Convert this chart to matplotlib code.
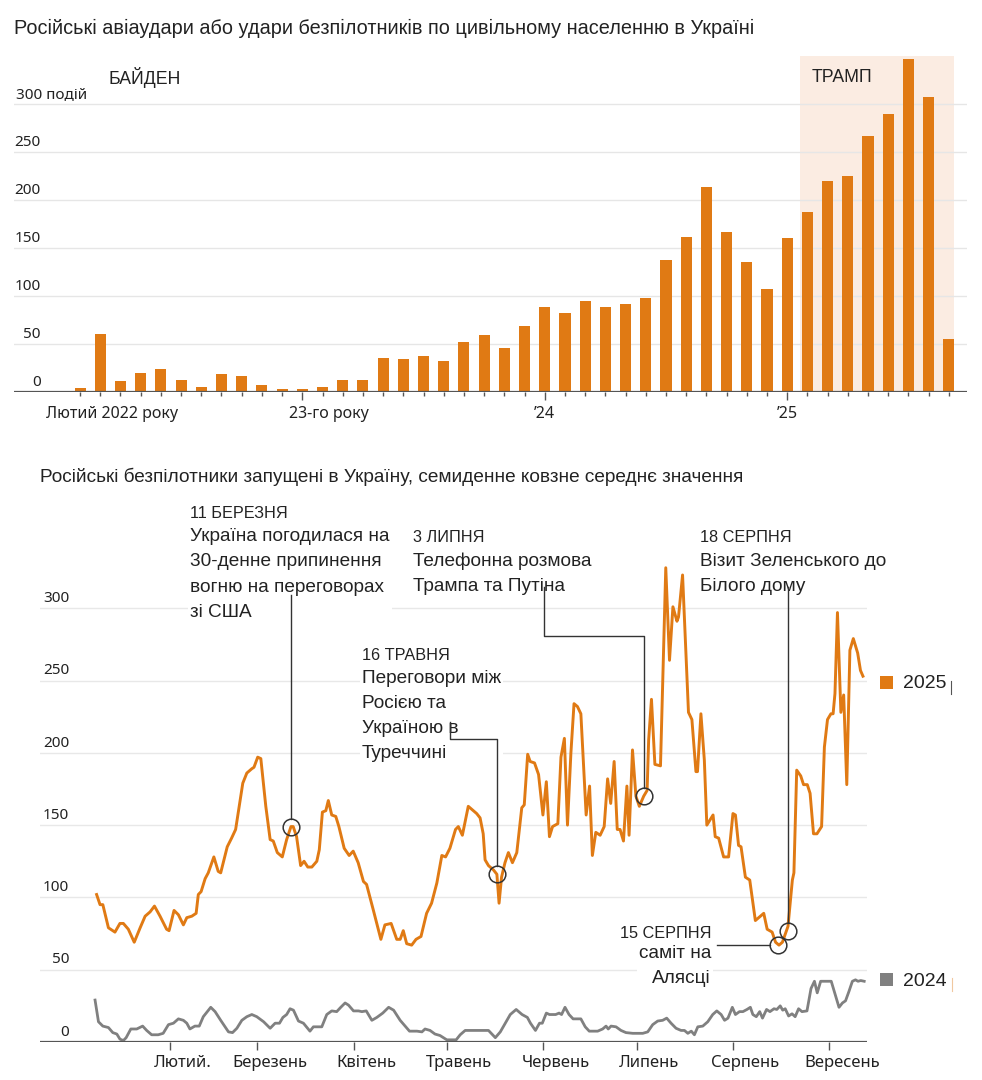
import numpy as np
import matplotlib
matplotlib.use("Agg")
import matplotlib.pyplot as plt
from matplotlib.patches import Rectangle
from matplotlib.lines import Line2D

W, H = 982, 1080
FONT = ['Liberation Sans', 'DejaVu Sans']
TICKFONT = ['Noto Sans', 'DejaVu Sans']
plt.rcParams['font.family'] = FONT

ORANGE = '#e07a14'
GRAY = '#808080'
TXT = '#222222'

# ---- top chart: monthly strikes, Feb 2022 .. Sep 2025
strikes = [4, 60, 11, 20, 24, 13, 5, 19, 17, 7,
           3, 3, 5, 13, 12, 35, 34, 38, 32, 52,
           59, 46, 69, 89, 82, 95, 89, 92, 98, 137,
           161, 214, 167, 135, 107, 160, 188, 220, 225, 267,
           290, 347, 307, 55]
month_idx = np.arange(len(strikes))
top_ticks = [11, 23, 35]
top_labels = ['Лютий 2022 року', '23-го року', '’24', '’25']
top_label_pos = [1.6, 12.3, 23, 35]
top_yticks = [0, 50, 100, 150, 200, 250, 300]
trump_start, trump_end = 35.64, 43.27

# ---- bottom chart: 7-day rolling average of drones, by day of year
days_2025 = [8.4, 9.5, 10.4, 12.2, 14.3, 15.9, 17, 18.6, 20.5, 22.4, 24, 25.6, 27, 28.8, 30.9, 31.7,
             33.3, 34.7, 36.3, 37.4, 39, 40.4, 41.1, 42, 43.3, 44.3, 46.1, 47.5, 48.3, 50.4, 51.8,
             53.1, 55.4, 56.7, 58.3, 59, 60.2, 61.2, 62.8, 64.2, 65.2, 66.5, 68.1, 69.5,
             70.9, 71.6, 72.7, 74, 75.1, 76.3, 77.6, 79.2, 80, 81, 82.1, 82.9, 84, 85.3, 86.3, 88,
             89.6, 90.9, 92.5, 94.2, 95.2, 97.4, 99.8, 101.1, 103.1, 104.9, 106, 107, 108.1, 109.7,
             111.1, 112.7, 114.5, 116.1, 117.8, 119.4, 120.6, 122, 123.8, 124.7, 126, 127.9, 130.6,
             131.7, 132.7, 133.3, 134.4, 136, 137.1, 137.8, 138.6, 139.7, 140.8, 142.1, 143.5, 145.1,
             145.9, 147, 147.8, 149.2, 150.5, 151.9, 153, 154, 155, 156.7, 157.7, 158.8, 159.8, 160.9,
             161.9, 163, 164.1, 165.8, 166.9, 167.8, 168.9, 170.3, 171.6, 172.7, 173.7, 174.8, 175.8,
             176.7, 177.8, 178.9, 179.6, 180.7, 181.8, 182.9, 184.3, 185.4, 185.9, 186.8, 187.9, 189.7,
             191.4, 192.6, 193.7, 195, 195.5, 196.8, 198.7, 199.8, 201.1, 201.6, 202.7, 203.8, 204.6,
             206.6, 207.3, 208.4, 210, 211.6, 213, 213.8, 214.8, 215.6, 217, 218.4, 220.2, 221.8, 222.9,
             224, 225.6, 226.7, 227.8, 228.9, 230.7, 232.1, 232.6, 233.5, 234.8, 235.7, 236.9, 237.8,
             238.9, 240, 241.5, 242.4, 243.4, 244.5, 245.2, 245.8, 246.6, 247.7, 248.6, 249.6, 250.6,
             251.7, 253.1, 254, 254.8]
drones_2025 = [102, 95, 95, 79, 76, 82, 82, 78, 69, 79, 87, 90, 94, 87, 78, 77,
               91, 88, 81, 86, 87, 89, 102, 104, 113, 117, 128, 118, 117, 135, 141,
               147, 179, 186, 189, 190, 197, 196, 163, 140, 139, 131, 128, 140,
               149, 149, 142, 122, 125, 121, 121, 125, 133, 159, 160, 167, 157, 156, 149, 134,
               129, 132, 124, 111, 109, 91, 71, 81, 82, 71, 71, 77, 68, 67,
               71, 73, 89, 96, 110, 129, 128, 134, 147, 149, 143, 163, 158,
               155, 144, 126, 122, 119, 116, 96, 114, 124, 131, 124, 131, 162,
               164, 199, 194, 193, 185, 157, 180, 142, 149, 151, 197, 210, 150, 200,
               234, 232, 227, 157, 177, 129, 145, 143, 149, 182, 165, 194, 147,
               147, 139, 177, 143, 202, 170, 163, 170, 174, 209, 237, 192, 191,
               328, 264, 301, 291, 294, 323, 228, 223, 187, 187, 227, 195, 150,
               157, 142, 141, 128, 128, 158, 157, 136, 135, 114, 112, 84, 87, 89,
               78, 76, 69, 67, 69, 80, 112, 117, 188, 184, 178, 178, 172,
               144, 144, 149, 204, 223, 227, 227, 241, 297, 228, 240, 178, 271,
               279, 269, 257, 253]

days_2024 = [7.9, 9, 10.4, 12.2, 13.6, 14.9, 15.9, 17, 17.9, 19.4, 21.3, 23.2, 24.5, 26.1, 28.2, 29.8,
             31.5, 33.1, 34.7, 36.3, 37.4, 38.4, 40, 41.4, 42.7, 45.1, 46.5, 48.3, 50.8, 52.1, 53.5,
             55.1, 56.7, 58.3, 59.9, 62.1, 64.2, 65.8, 67.2, 68.3, 69.5, 70.6, 71.7, 73.3, 74.9, 77,
             78.1, 80.8, 82.4, 84, 85.6, 86.9, 88.3, 89.4, 91, 92.6, 93.7, 95.1, 96.9, 98.5, 100.4,
             102.3, 103.9, 106, 109, 111.4, 113, 114, 115.6, 117.2, 118.8, 119.9, 121, 124, 125.3,
             126.9, 131.7, 134.4, 136.6, 138.2, 139.8, 141.4, 143.3, 145.2, 146.9, 147.9, 149.5,
             150.8, 151.7, 153, 154, 156, 157.1, 157.9, 159, 160.3, 161.6, 164.1, 165.5, 166.8, 169.5,
             171.1, 172.2, 172.9, 173.8, 175.4, 177, 178.6, 180.8, 184, 185.6, 187.2, 188.8, 190.4,
             191.7, 193.1, 194.7, 196.3, 197.4, 198.5, 199.6, 200.6, 201.7, 203.3, 204.9, 206.5,
             207.8, 209.2, 210.3, 211.4, 212.8, 213.8, 215.1, 216.2, 217.5, 218.6, 219.4, 220.5,
             221.6, 222.5, 223.8, 224.9, 226.2, 227.1, 228.2, 229, 229.8, 230.9, 232, 233, 234.1,
             235.2, 236.8, 238.1, 239.2, 240.1, 241.2, 244.6, 245.7, 247.1, 248.2, 249.2, 250.3,
             251.4, 252.4, 253.2, 254.1, 255.2]
drones_2024 = [29, 14, 11, 10, 6.5, 5.5, 2, 1, 3, 9, 9, 11, 8, 5, 5, 6,
               12, 13, 16, 15, 13, 9, 11, 11, 17.5, 24, 21, 15, 7, 6.5, 9.5,
               15, 17.5, 19, 17.5, 14, 9.5, 13, 13, 17, 19, 23, 22, 14.5, 13, 7.5,
               10.5, 10.5, 19, 21.5, 21, 24, 27, 25.5, 21.5, 21.5, 21, 21.5, 15, 17, 20,
               24, 22, 15, 7.5, 7.5, 7, 9, 8, 5.5, 4.5, 3, 1.5, 1.5, 5,
               8, 8, 8, 3, 7, 13, 19, 22.5, 19, 17, 13, 8,
               13, 13, 20, 19, 19, 20, 19, 24, 19, 16, 16, 10.5, 7.5, 7.5,
               9, 11, 9, 11, 10.5, 8, 6.5, 6, 6, 7, 12, 14.5, 15,
               16.5, 13, 9.5, 8, 8, 6, 7.5, 5, 10.5, 11, 14, 19,
               21.5, 19, 15, 16.5, 24, 19, 21, 21, 22.5, 24, 19, 17.5,
               21, 16.5, 22.5, 21, 23, 22.5, 25, 22, 23, 18, 19.5, 17.5, 23,
               21, 21.5, 37, 42, 34, 42, 42, 34, 24, 27, 28.5, 35,
               42, 43, 42, 42.5, 42]

month_days = [32, 60, 91, 121, 152, 182, 213, 244]
month_names = ['Лютий.', 'Березень', 'Квітень', 'Травень', 'Червень', 'Липень', 'Серпень', 'Вересень']
bottom_yticks = [0, 50, 100, 150, 200, 250, 300]

# events marked with circles (day, value)
event_days = [71, 137, 184.3, 227.4, 230.7]
event_vals = [149, 116, 170, 67, 77]


def fpx(x, y):
    return x / W, 1 - y / H


fig = plt.figure(figsize=(W / 100, H / 100), dpi=100)

# ================= top chart =================
ax1 = fig.add_axes([14 / W, 1 - 392 / H, 953 / W, 336 / H])
ax1.set_xlim(-3.27, 43.9)
ax1.set_ylim(0, 350)
ax1.axvspan(trump_start, trump_end, color='#fbece2', lw=0, zorder=0)
for v in top_yticks[1:]:
    ax1.axhline(v, color='#e6e6e6', lw=1, zorder=1)
ax1.bar(month_idx, strikes, width=0.55, color=ORANGE, zorder=2)
ax1.axhline(0, color='#555555', lw=1.6, zorder=3)
for s in ax1.spines.values():
    s.set_visible(False)
ax1.set_yticks([])
ax1.set_xticks(top_ticks)
ax1.set_xticklabels([])
ax1.set_xticks(month_idx, minor=True)
ax1.tick_params(axis='x', which='major', length=6, width=1, color='#555555')
ax1.tick_params(axis='x', which='minor', length=3, width=1, color='#555555')
for pos, lab in zip(top_label_pos, top_labels):
    ax1.annotate(lab, xy=(pos, 0), xycoords=('data', 'data'), xytext=(0, -15.5),
                 textcoords='offset points', ha='center', va='center',
                 fontsize=11.5, color=TXT, family=TICKFONT)
for v in top_yticks:
    if v == 300:
        ax1.annotate('300 подій', xy=(0.002, v), xycoords=('axes fraction', 'data'), xytext=(0, 7),
                     textcoords='offset points', ha='left', va='center',
                     fontsize=11, color=TXT, family=TICKFONT)
    else:
        ax1.annotate(str(v), xy=(0.0283, v), xycoords=('axes fraction', 'data'), xytext=(0, 7),
                     textcoords='offset points', ha='right', va='center',
                     fontsize=11, color=TXT, family=TICKFONT)

fig.text(*fpx(14, 28), 'Російські авіаудари або удари безпілотників по цивільному населенню в Україні',
         fontsize=14.3, color=TXT, ha='left', va='center')
fig.text(*fpx(108, 78), 'БАЙДЕН', fontsize=12.7, color=TXT, ha='left', va='center')
fig.text(*fpx(812, 78), 'ТРАМП', fontsize=12.7, color=TXT, ha='left', va='center')

# ================= bottom chart =================
ax2 = fig.add_axes([40 / W, 38 / H, 827 / W, 491.6 / H])
ax2.set_xlim(-9.8, 256.1)
ax2.set_ylim(0, 340)
for v in bottom_yticks[1:]:
    ax2.axhline(v, color='#e8e8e8', lw=1, zorder=1)
ax2.plot(days_2024, drones_2024, color=GRAY, lw=2, zorder=3, solid_joinstyle='round')
ax2.plot(days_2025, drones_2025, color=ORANGE, lw=2.1, zorder=3, solid_joinstyle='round')
ax2.axhline(0, color='#555555', lw=1.6, zorder=4)
for s in ax2.spines.values():
    s.set_visible(False)
ax2.set_yticks([])
ax2.set_xticks(month_days)
ax2.set_xticklabels([])
ax2.tick_params(axis='x', length=6, width=1, color='#555555')
for d, name in zip(month_days, month_names):
    ax2.annotate(name, xy=(d + 4, 0), xytext=(0, -15), textcoords='offset points',
                 ha='center', va='center', fontsize=12, color=TXT, family=TICKFONT)
for v in bottom_yticks:
    ax2.annotate(str(v), xy=(0.0354, v), xycoords=('axes fraction', 'data'), xytext=(0, 7),
                 textcoords='offset points', ha='right', va='center',
                 fontsize=11, color=TXT, family=TICKFONT)

ax2.plot(event_days, event_vals, ls='none', marker='o', ms=12, mfc='none', mec='#333333',
         mew=1.1, zorder=8, clip_on=False)

inv = ax2.transData.inverted()


def to_data(x, y):
    return inv.transform((x, H - y))


r = 8 / (491.6 / 340)  # circle radius in data units
LEAD = dict(color='#333333', lw=1, zorder=8, clip_on=False)

# leaders from texts to circles (drawn above the text boxes)
ax2.plot([event_days[0]] * 2, [to_data(0, 595)[1], event_vals[0] + r], **LEAD)
x1 = to_data(450, 0)[0]
y1a, y1b = to_data(0, 722)[1], to_data(0, 739)[1]
ax2.plot([x1, x1, event_days[1], event_days[1]], [y1a, y1b, y1b, event_vals[1] + r], **LEAD)
x2 = to_data(544, 0)[0]
y2a, y2b = to_data(0, 587)[1], to_data(0, 636)[1]
ax2.plot([x2, x2, event_days[2], event_days[2]], [y2a, y2b, y2b, event_vals[2] + r], **LEAD)
ax2.plot([event_days[4]] * 2, [to_data(0, 587)[1], event_vals[4] + r], **LEAD)
x3 = to_data(716.7, 0)[0]
ax2.plot([x3, event_days[3] - 8 / 3.11], [event_vals[3]] * 2, **LEAD)

# annotation texts, white boxes hide the gridlines behind them
box = dict(facecolor='white', edgecolor='none', pad=1.5)
BODY = 13.7
DATE = 11.7


def note(x, ydate, date, body, ybody, ha='left', spacing=1.64):
    ax2.text(*fpx(x, ydate), date, transform=fig.transFigure, fontsize=DATE, color=TXT,
             ha=ha, va='center', bbox=box, zorder=6, clip_on=False)
    ax2.text(*fpx(x, ybody), body, transform=fig.transFigure, fontsize=BODY, color=TXT,
             ha=ha, va='center', linespacing=spacing, bbox=box, zorder=6,
             multialignment=ha, clip_on=False)


note(190, 513, '11 БЕРЕЗНЯ', 'Україна погодилася на\n30-денне припинення\nвогню на переговорах\nзі США', 574.5)
note(413, 537, '3 ЛИПНЯ', 'Телефонна розмова\nТрампа та Путіна', 574)
note(362, 655, '16 ТРАВНЯ', 'Переговори між\nРосією та\nУкраїною в\nТуреччині', 716)
note(700, 537, '18 СЕРПНЯ', 'Візит Зеленського до\nБілого дому', 574)
note(711, 934, '15 СЕРПНЯ', 'саміт на\nАлясці', 966, ha='right', spacing=1.55)

fig.text(*fpx(40, 477), 'Російські безпілотники запущені в Україну, семиденне ковзне середнє значення',
         fontsize=13.7, color=TXT, ha='left', va='center')

# legend
fig.add_artist(Rectangle(fpx(880, 689), 13 / W, 13 / H, transform=fig.transFigure,
                         color=ORANGE, lw=0))
fig.text(*fpx(903, 684), '2025', fontsize=14, color=TXT, ha='left', va='center')
fig.add_artist(Rectangle(fpx(880, 986), 13 / W, 13 / H, transform=fig.transFigure,
                         color=GRAY, lw=0))
fig.text(*fpx(903, 981), '2024', fontsize=14, color=TXT, ha='left', va='center')
fig.add_artist(Line2D([951 / W, 951 / W], [1 - 694 / H, 1 - 681 / H], transform=fig.transFigure,
                      color='#555555', lw=0.8))
fig.add_artist(Line2D([952 / W, 952 / W], [1 - 991 / H, 1 - 978 / H], transform=fig.transFigure,
                      color='#f0c8a0', lw=0.8))

fig.savefig('out.png', dpi=100)
